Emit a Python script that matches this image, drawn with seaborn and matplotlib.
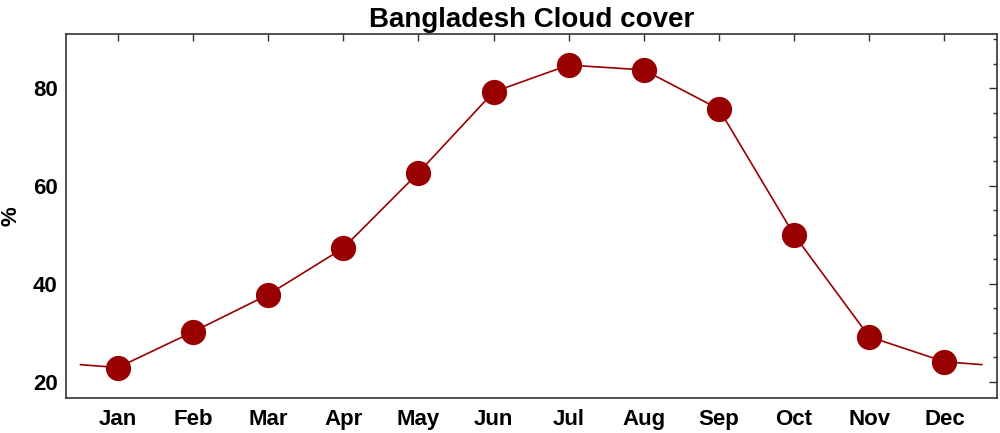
import matplotlib
matplotlib.use("Agg")
import matplotlib.pyplot as plt
from matplotlib.ticker import MultipleLocator
import seaborn as sns
import pandas as pd

months = ["Jan", "Feb", "Mar", "Apr", "May", "Jun", "Jul", "Aug", "Sep", "Oct", "Nov", "Dec"]
cloud = [22.9, 30.2, 37.8, 47.3, 62.7, 79.2, 84.7, 83.7, 75.7, 50.0, 29.2, 24.1]
title = "Bangladesh Cloud cover"
ylabel = "%"
color = "#990000"

sns.set_theme(style="white")
plt.rcParams['font.family'] = ['Liberation Sans', 'DejaVu Sans']
plt.rcParams['font.weight'] = 'bold'
plt.rcParams['text.color'] = 'black'
plt.rcParams['axes.labelcolor'] = 'black'

pos = list(range(1, 13))
wrap = (cloud[0] + cloud[-1]) / 2
line_df = pd.DataFrame({"x": [0.5] + pos + [12.5], "y": [wrap] + cloud + [wrap]})
pt_df = pd.DataFrame({"x": pos, "y": cloud})

fig = plt.figure(figsize=(10, 4.33), dpi=100)
ax = fig.add_axes([0.066, 0.081, 0.931, 0.84])

sns.lineplot(data=line_df, x="x", y="y", color=color, linewidth=1.2, ax=ax, sort=False)
sns.scatterplot(data=pt_df, x="x", y="y", color=color, s=330, edgecolor=color, linewidth=0, ax=ax, zorder=3)

ax.set_xlim(0.31, 12.7)
ax.set_ylim(16.7, 91)
ax.set_xticks(pos)
ax.set_xticklabels(months, fontsize=16, fontweight='bold')
ax.yaxis.set_major_locator(MultipleLocator(20))
ax.yaxis.set_minor_locator(MultipleLocator(5))
for lab in ax.get_yticklabels():
    lab.set_fontsize(16)
    lab.set_fontweight('bold')
ax.tick_params(axis='both', which='both', direction='in', top=True, right=True, colors='#333333', labelcolor='black')
ax.tick_params(axis='y', which='major', length=6, width=1, pad=6)
ax.tick_params(axis='y', which='minor', length=3, width=1)
ax.tick_params(axis='x', which='major', length=5, width=1, pad=8)
for s in ax.spines.values():
    s.set_color('#333333')
    s.set_linewidth(1.2)
ax.set_xlabel("")
ax.set_ylabel(ylabel, fontsize=16, fontweight='bold', color='black')
ax.yaxis.set_label_coords(-0.048, 0.5)
ax.set_title(title, fontsize=20, fontweight='bold', pad=5, color='black')

fig.savefig("out.png", dpi=100)
